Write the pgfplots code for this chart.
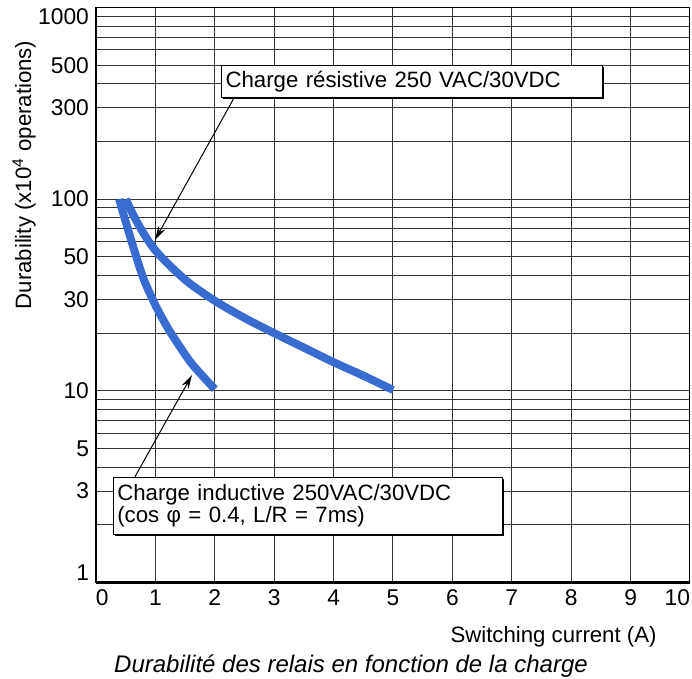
\documentclass[border=0pt]{standalone}
\usepackage{fontspec}
\setmainfont{Liberation Sans}
\usepackage{pgfplots}
\pgfplotsset{compat=1.18}
\usetikzlibrary{arrows.meta,shadows}

\definecolor{curveblue}{RGB}{57,108,207}
\newcommand{\annot}{\fontsize{11.1}{10.85}\selectfont}

\begin{document}
\begin{tikzpicture}
\useasboundingbox (-48pt,-48.25pt) rectangle (298pt,291.25pt);
\begin{axis}[
    name=ax,
    scale only axis, width=297pt, height=287.5pt,
    xmin=0, xmax=10, ymin=1, ymax=1000, ymode=log,
    xtick={0,1,2,3,4,5,6,7,8,9,10},
    xticklabels={\rlap{0},1,2,3,4,5,6,7,8,9,\llap{10}},
    ytick={1.12,3,5,10,30,50,100,300,500,892},
    yticklabels={1,3,5,10,30,50,100,300,500,1000},
    minor ytick={2,3,4,5,6,7,8,9,10,20,30,40,50,60,70,80,90,100,200,300,400,500,600,700,800,900},
    xmajorgrids=true, ymajorgrids=false, yminorgrids=true,
    major tick length=0pt, minor tick length=0pt,
    grid style={black!80, line width=0.5pt},
    minor grid style={black!80, line width=0.5pt},
    axis line style={black, line width=0.5pt},
    tick label style={font=\fontsize{11.4}{13}\selectfont},
    xticklabel style={inner xsep=0pt},
    xlabel={Switching current (A)},
    xlabel style={at={(axis description cs:0.9444,-0.1035)}, anchor=base east, inner sep=0pt, font=\annot},
    ylabel={Durability (x10\textsuperscript{4} operations)},
    ylabel style={at={(axis description cs:-0.1212,0.7087)}, anchor=center, font=\annot},
    title={Durabilité des relais en fonction de la charge},
    title style={at={(axis description cs:0.4293,-0.1557)}, anchor=base, yshift=-6pt, inner sep=0pt, font=\itshape\fontsize{12}{14}\selectfont},
    clip=false,
]
% charge resistive
\addplot[smooth, line width=4pt, color=curveblue] coordinates {
    (0.5,100) (0.7,75) (1,54) (1.5,38) (2,29.5) (2.5,24) (3,20) (3.5,16.8) (4,14.1) (4.5,12) (5,10.1)
};
% charge inductive
\addplot[smooth, line width=4pt, color=curveblue] coordinates {
    (0.39,100) (0.46,84) (0.63,56) (0.8,38.5) (1,28) (1.2,21.5) (1.4,17.2) (1.6,14) (1.8,11.9) (2,10.2)
};
\draw[line width=1.4pt] (rel axis cs:0,0) -- (rel axis cs:1,0);
\draw[line width=1pt] (rel axis cs:0,0) -- (rel axis cs:0,1);
\end{axis}

\node[draw=black, fill=white, line width=0.6pt, drop shadow={shadow xshift=0.7pt, shadow yshift=-0.7pt, fill=black, opacity=1},
      anchor=north west, inner xsep=2pt, inner ysep=0pt, minimum width=190.5pt, minimum height=16pt,
      text width=186.5pt, align=left, font=\annot] at (62.5pt,258.75pt) {Charge résistive 250 VAC/30VDC};
\node[draw=black, fill=white, line width=0.6pt, drop shadow={shadow xshift=0.7pt, shadow yshift=-0.7pt, fill=black, opacity=1},
      anchor=north west, inner xsep=2pt, inner ysep=0pt, minimum width=194.5pt, minimum height=28.8pt,
      text width=190.5pt, align=left, font=\annot] at (8.35pt,52.9pt) {Charge inductive 250VAC/30VDC\\(cos φ = 0.4, L/R = 7ms)};

\draw[line width=0.5pt, -{Stealth[length=7pt, width=3.8pt]}] (69pt,242.25pt) -- (29.5pt,171.25pt);
\draw[line width=0.5pt, -{Stealth[length=7pt, width=3.8pt]}] (19.5pt,52.9pt) -- (48pt,103.75pt);
\end{tikzpicture}
\end{document}
